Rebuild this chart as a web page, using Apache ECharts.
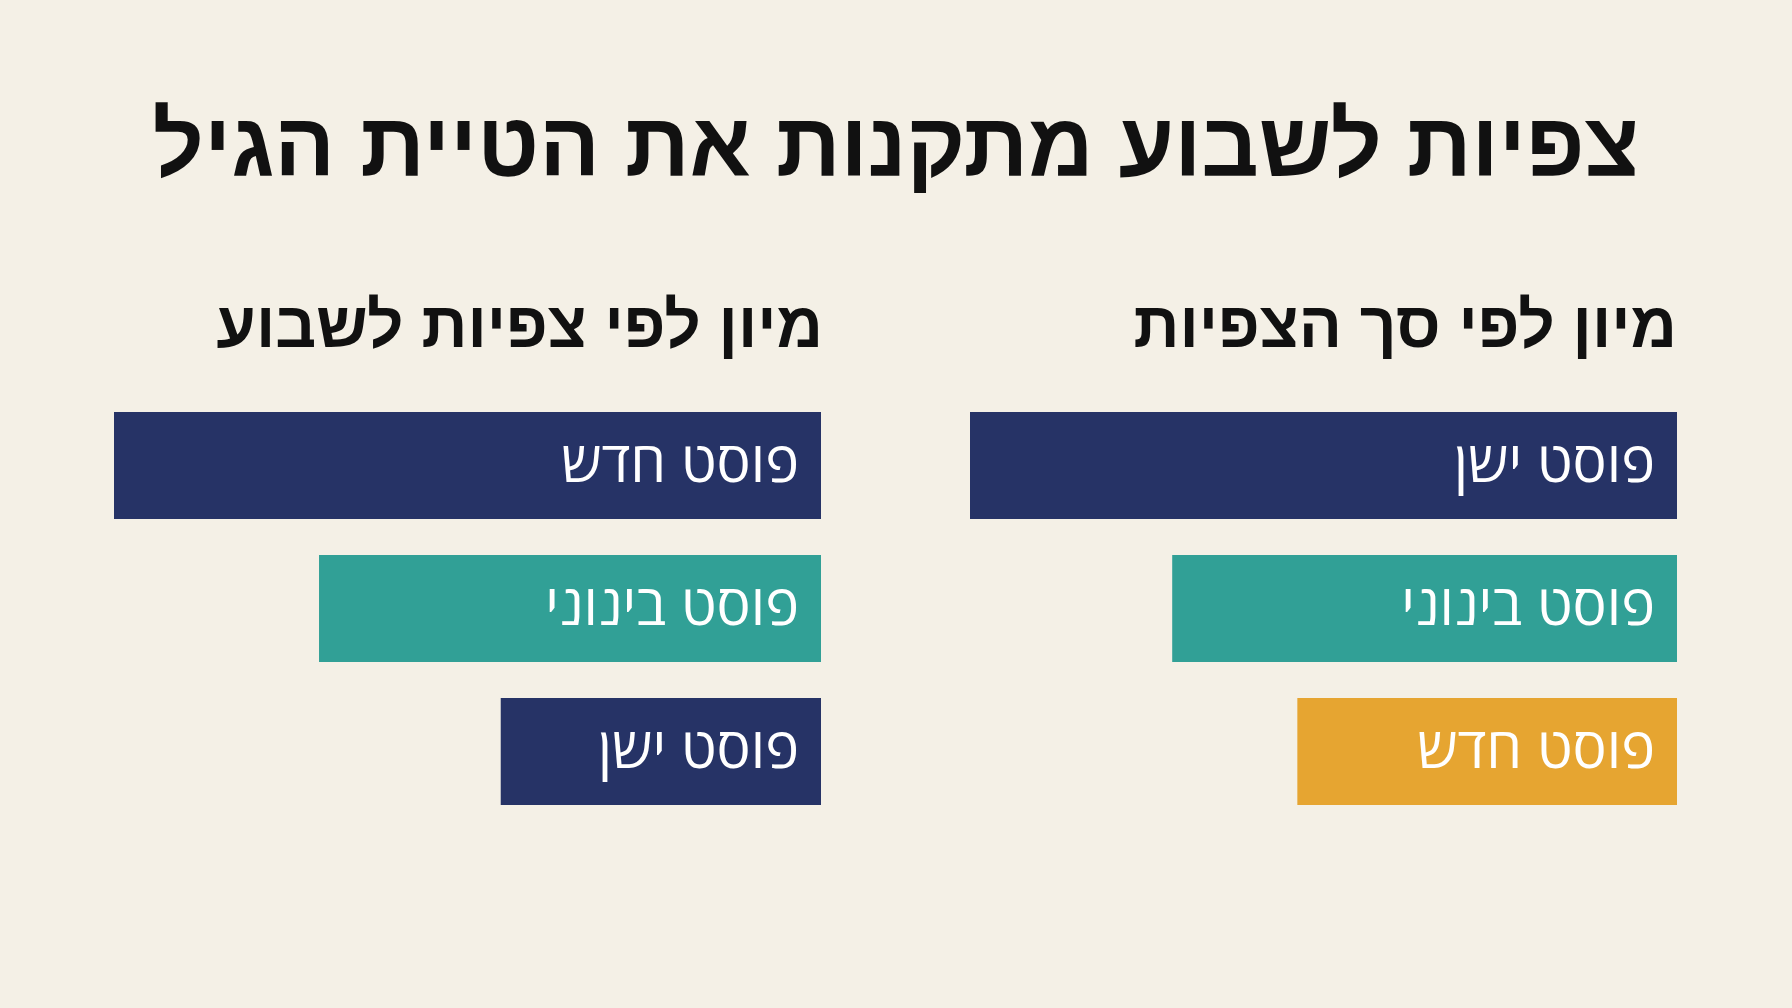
<!DOCTYPE html>
<html><head><meta charset="utf-8">
<script src="https://cdn.jsdelivr.net/npm/echarts@6/dist/echarts.min.js"></script>
<style>html,body{margin:0;padding:0;background:#f4f0e6}#c{width:1792px;height:1008px}</style>
</head><body><div id="c"></div>
<script>
const mainTitle = 'צפיות לשבוע מתקנות את הטיית הגיל';
const leftTitle = 'מיון לפי צפיות לשבוע';
const rightTitle = 'מיון לפי סך הצפיות';
const leftCategories = ['פוסט חדש', 'פוסט בינוני', 'פוסט ישן'];
const leftValues = [100, 71, 45.3];
const rightCategories = ['פוסט ישן', 'פוסט בינוני', 'פוסט חדש'];
const rightValues = [100, 71.4, 53.7];
const NAVY = '#263366', TEAL = '#31a096', ORANGE = '#e6a531';
const leftColors = [NAVY, TEAL, NAVY];
const rightColors = [NAVY, TEAL, ORANGE];

const chart = echarts.init(document.getElementById('c'));
const hebFont = '"Open Sans", "DejaVu Sans", sans-serif';
const boldFont = '"Liberation Sans", "DejaVu Sans", sans-serif';
function mkData(vals, cols) {
  return vals.map((v, i) => ({ value: v, itemStyle: { color: cols[i] } }));
}
const labelCfg = {
  show: true, position: 'insideRight', distance: 22, formatter: '{b}',
  color: '#ffffff', fontSize: 57, fontFamily: hebFont
};
chart.setOption({
  backgroundColor: '#f4f0e6',
  animation: false,
  title: [
    { text: mainTitle, left: 'center', top: 101, textStyle: { fontSize: 90, fontWeight: 'bold', color: '#111', fontFamily: boldFont } },
    { text: leftTitle, right: 964, top: 292, textStyle: { fontSize: 64, fontWeight: 'bold', color: '#111', fontFamily: boldFont } },
    { text: rightTitle, right: 110, top: 292, textStyle: { fontSize: 64, fontWeight: 'bold', color: '#111', fontFamily: boldFont } }
  ],
  grid: [
    { left: 114, width: 707, top: 394, height: 429 },
    { left: 970, width: 707, top: 394, height: 429 }
  ],
  xAxis: [
    { type: 'value', gridIndex: 0, min: 0, max: 100, inverse: true, show: false },
    { type: 'value', gridIndex: 1, min: 0, max: 100, inverse: true, show: false }
  ],
  yAxis: [
    { type: 'category', gridIndex: 0, data: leftCategories, inverse: true, show: false },
    { type: 'category', gridIndex: 1, data: rightCategories, inverse: true, show: false }
  ],
  series: [
    { type: 'bar', xAxisIndex: 0, yAxisIndex: 0, barWidth: 107, data: mkData(leftValues, leftColors), label: labelCfg },
    { type: 'bar', xAxisIndex: 1, yAxisIndex: 1, barWidth: 107, data: mkData(rightValues, rightColors), label: labelCfg }
  ]
});
</script></body></html>
